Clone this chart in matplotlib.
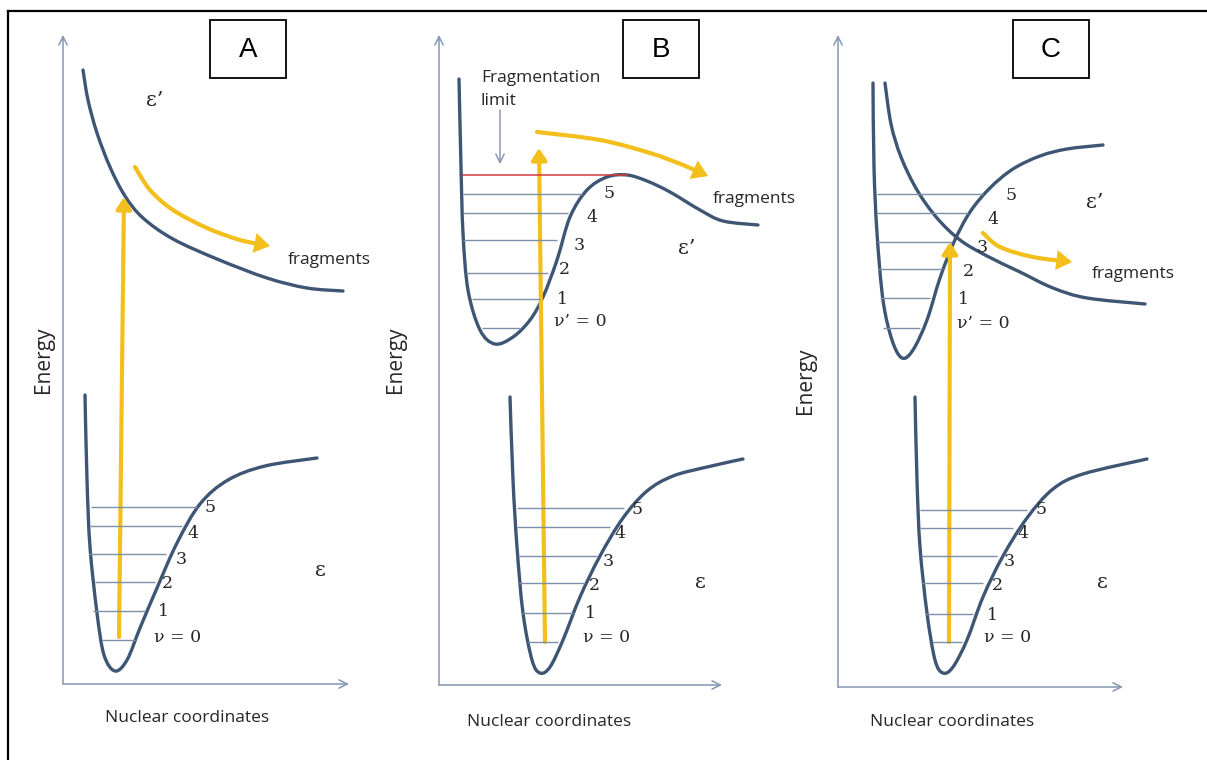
import numpy as np
import matplotlib
matplotlib.use("Agg")
import matplotlib.pyplot as plt
from matplotlib.path import Path
from matplotlib.patches import PathPatch, FancyArrowPatch, Rectangle

# ---------------- traced data (pixel coordinates of the reference) ----------------
panel_labels = ["A", "B", "C"]

# Panel A
A_upper_x = [83, 88, 97, 110, 125, 143, 173, 217, 267, 307, 343]
A_upper_y = [70, 100, 133, 167, 196, 218, 239, 259, 278, 288, 291]
A_lower_x = [85, 87, 90, 97, 104, 115, 127, 140, 157, 177, 200, 228, 265, 317]
A_lower_y = [395, 480, 547, 613, 655, 671, 660, 628, 588, 543, 504, 480, 466, 458]
A_lvl_y = [640, 611, 582, 554, 526, 507]
A_lvl_x0 = [102, 93, 95, 89, 90, 91]
A_lvl_x1 = [135, 145, 155, 166, 182, 197]
A_lbl_x = [178, 163, 167, 181, 193, 210]
A_lbl_y = [637, 612, 583, 560, 533, 508]
A_curl_x = [135, 150, 173, 207, 240, 270]
A_curl_y = [167, 190, 210, 228, 240, 246]

# Panel B
B_upper_x = [459, 461, 463, 468, 480, 495, 513, 530, 543, 557, 570, 587, 607, 627, 647, 670, 700, 723, 758]
B_upper_y = [79, 167, 233, 290, 330, 344, 337, 320, 297, 260, 217, 190, 177, 175, 181, 192, 210, 221, 225]
B_up_lvl_y = [328, 299, 273, 240, 213, 194]
B_up_lvl_x0 = [482, 472, 466, 463, 463, 463]
B_up_lvl_x1 = [520, 540, 548, 557, 568, 582]
B_up_lbl_x = [580, 562, 564, 579, 592, 609]
B_up_lbl_y = [322, 299, 269, 246, 218, 194]
B_limit_y = 175
B_limit_x = [463, 627]
B_lower_x = [510, 513, 517, 523, 532, 540, 550, 563, 580, 600, 623, 647, 673, 707, 743]
B_lower_y = [397, 480, 547, 613, 660, 673, 667, 640, 597, 556, 518, 491, 476, 467, 459]
B_lvl_y = [642, 613, 583, 556, 527, 508]
B_lvl_x0 = [528, 522, 519, 518, 517, 517]
B_lvl_x1 = [558, 573, 585, 597, 610, 624]
B_lbl_x = [607, 590, 594, 608, 620, 637]
B_lbl_y = [637, 614, 585, 561, 533, 509]
B_curl_x = [537, 600, 650, 683, 708]
B_curl_y = [132, 140, 153, 165, 176]

# Panel C
C_bound_x = [873, 874, 877, 883, 892, 902, 913, 927, 940, 954, 970, 990, 1013, 1040, 1067, 1103]
C_bound_y = [83, 167, 233, 300, 340, 358, 350, 320, 278, 242, 212, 188, 169, 156, 149, 145]
C_rep_x = [885, 891, 901, 917, 937, 960, 987, 1020, 1053, 1087, 1145]
C_rep_y = [83, 124, 157, 190, 218, 240, 256, 272, 288, 298, 304]
C_up_lvl_y = [328, 298, 269, 242, 213, 194]
C_up_lvl_x0 = [883, 880, 878, 877, 877, 877]
C_up_lvl_x1 = [920, 930, 942, 952, 968, 983]
C_up_lbl_x = [983, 963, 968, 982, 993, 1011]
C_up_lbl_y = [323, 300, 272, 247, 220, 196]
C_lower_x = [915, 917, 920, 927, 935, 943, 953, 967, 983, 1003, 1027, 1053, 1083, 1147]
C_lower_y = [397, 480, 547, 613, 660, 673, 667, 640, 597, 556, 518, 489, 474, 459]
C_lvl_y = [642, 614, 583, 556, 528, 510]
C_lvl_x0 = [932, 925, 922, 921, 920, 920]
C_lvl_x1 = [962, 973, 983, 997, 1013, 1027]
C_lbl_x = [1008, 992, 997, 1009, 1023, 1041]
C_lbl_y = [637, 615, 585, 562, 534, 510]
C_curl_x = [983, 1000, 1033, 1072]
C_curl_y = [233, 247, 257, 262]

level_labels = ["ν = 0", "1", "2", "3", "4", "5"]
upper_level_labels = ["ν’ = 0", "1", "2", "3", "4", "5"]

# vertical excitation arrows: (x_bottom, y_bottom, x_top, y_top)
exc_A = (119, 637, 124, 197)
exc_B = (545, 642, 539, 148)
exc_C = (949, 642, 950, 242)

# ---------------- styles ----------------
CURVE = "#3E5674"
LEVEL = "#7C90AA"
AXIS = "#8497B3"
YELLOW = "#F3BF1C"
TEXT = "#262626"
SANS = "Open Sans"
SERIF = "DejaVu Serif"

fig = plt.figure(figsize=(12.07, 7.60), dpi=100)
ax = fig.add_axes([0, 0, 1, 1])
ax.set_xlim(0, 1207)
ax.set_ylim(760, 0)
ax.axis("off")


def smooth_path(xs, ys):
    P = np.column_stack([xs, ys]).astype(float)
    n = len(P)
    verts = [P[0]]
    codes = [Path.MOVETO]
    for i in range(n - 1):
        p0 = P[i - 1] if i > 0 else P[i]
        p1 = P[i]
        p2 = P[i + 1]
        p3 = P[i + 2] if i + 2 < n else P[i + 1]
        c1 = p1 + (p2 - p0) / 6.0
        c2 = p2 - (p3 - p1) / 6.0
        verts += [c1, c2, p2]
        codes += [Path.CURVE4] * 3
    return Path(verts, codes)


def curve(xs, ys, color=CURVE, lw=2.4):
    ax.add_patch(PathPatch(smooth_path(xs, ys), fill=False, edgecolor=color,
                           lw=lw, capstyle="round", joinstyle="round"))


def curved_arrow(xs, ys):
    ax.add_patch(FancyArrowPatch(path=smooth_path(xs, ys),
                                 arrowstyle="-|>,head_length=7,head_width=4.5",
                                 color=YELLOW, lw=3.0, shrinkA=0, shrinkB=0,
                                 joinstyle="miter"))


def straight_arrow(x0, y0, x1, y1, color, lw, style):
    ax.add_patch(FancyArrowPatch((x0, y0), (x1, y1), arrowstyle=style,
                                 color=color, lw=lw, shrinkA=0, shrinkB=0))


def levels(y, x0, x1):
    for yy, a, b in zip(y, x0, x1):
        ax.plot([a, b], [yy, yy], color=LEVEL, lw=1.0, solid_capstyle="butt")


def labels(xs, ys, txts):
    for x, y, t in zip(xs, ys, txts):
        ax.text(x, y, t, ha="center", va="center", fontsize=12.5,
                family=SERIF, color=TEXT)


def sans(x, y, t, **kw):
    kw.setdefault("ha", "center")
    ax.text(x, y, t, va="center", fontsize=12.5, family=SANS, color=TEXT, **kw)


def eps(x, y, t):
    ax.text(x, y, t, ha="center", va="center", fontsize=15, family=SERIF, color=TEXT)


# border (top and left)
ax.plot([8, 1207], [11, 11], color="black", lw=1.6)
ax.plot([8, 8], [11, 760], color="black", lw=1.6)

# axes, boxes, axis labels per panel
axis_x = [63, 439, 838]
axis_bottom = [684, 685, 687]
axis_right = [349, 722, 1123]
box_x = [210, 623, 1013]
energy_x = [43, 395, 806]
energy_y = [360, 360, 381]
nuc_x = [187, 549, 952]
nuc_y = [718, 722, 722]

for i in range(3):
    straight_arrow(axis_x[i], axis_bottom[i], axis_x[i], 35, AXIS, 1.1,
                   "->,head_length=6,head_width=3")
    straight_arrow(axis_x[i], axis_bottom[i], axis_right[i], axis_bottom[i], AXIS, 1.1,
                   "->,head_length=6,head_width=3")
    ax.add_patch(Rectangle((box_x[i], 20), 76, 58, fill=False, edgecolor="black", lw=1.3))
    ax.text(box_x[i] + 38, 50, panel_labels[i], ha="center", va="center",
            fontsize=20, family="Liberation Sans", color="black")
    ax.text(energy_x[i], energy_y[i], "Energy", rotation=90, ha="center", va="center",
            fontsize=15, family=SANS, color=TEXT)
    sans(nuc_x[i], nuc_y[i], "Nuclear coordinates")

# ---- Panel A ----
curve(A_upper_x, A_upper_y)
curve(A_lower_x, A_lower_y)
levels(A_lvl_y, A_lvl_x0, A_lvl_x1)
labels(A_lbl_x, A_lbl_y, level_labels)
straight_arrow(*exc_A, YELLOW, 3.0, "-|>,head_length=7,head_width=4.5")
curved_arrow(A_curl_x, A_curl_y)
sans(329, 260, "fragments")
eps(155, 100, "ε’")
eps(320, 570, "ε")

# ---- Panel B ----
levels(B_up_lvl_y, B_up_lvl_x0, B_up_lvl_x1)
ax.plot(B_limit_x, [B_limit_y, B_limit_y], color="#D23A3A", lw=1.1)
curve(B_upper_x, B_upper_y)
labels(B_up_lbl_x, B_up_lbl_y, upper_level_labels)
curve(B_lower_x, B_lower_y)
levels(B_lvl_y, B_lvl_x0, B_lvl_x1)
labels(B_lbl_x, B_lbl_y, level_labels)
straight_arrow(*exc_B, YELLOW, 3.0, "-|>,head_length=7,head_width=4.5")
curved_arrow(B_curl_x, B_curl_y)
sans(754, 199, "fragments")
sans(481, 78, "Fragmentation", ha="left")
sans(481, 101, "limit", ha="left")
straight_arrow(500, 110, 500, 164, LEVEL, 1.0, "->,head_length=6,head_width=3")
eps(687, 248, "ε’")
eps(700, 583, "ε")

# ---- Panel C ----
levels(C_up_lvl_y, C_up_lvl_x0, C_up_lvl_x1)
curve(C_bound_x, C_bound_y)
curve(C_rep_x, C_rep_y)
labels(C_up_lbl_x, C_up_lbl_y, upper_level_labels)
curve(C_lower_x, C_lower_y)
levels(C_lvl_y, C_lvl_x0, C_lvl_x1)
labels(C_lbl_x, C_lbl_y, level_labels)
straight_arrow(*exc_C, YELLOW, 3.0, "-|>,head_length=7,head_width=4.5")
curved_arrow(C_curl_x, C_curl_y)
sans(1133, 274, "fragments")
eps(1095, 202, "ε’")
eps(1102, 583, "ε")

fig.savefig("out.png", dpi=100, facecolor="white")
